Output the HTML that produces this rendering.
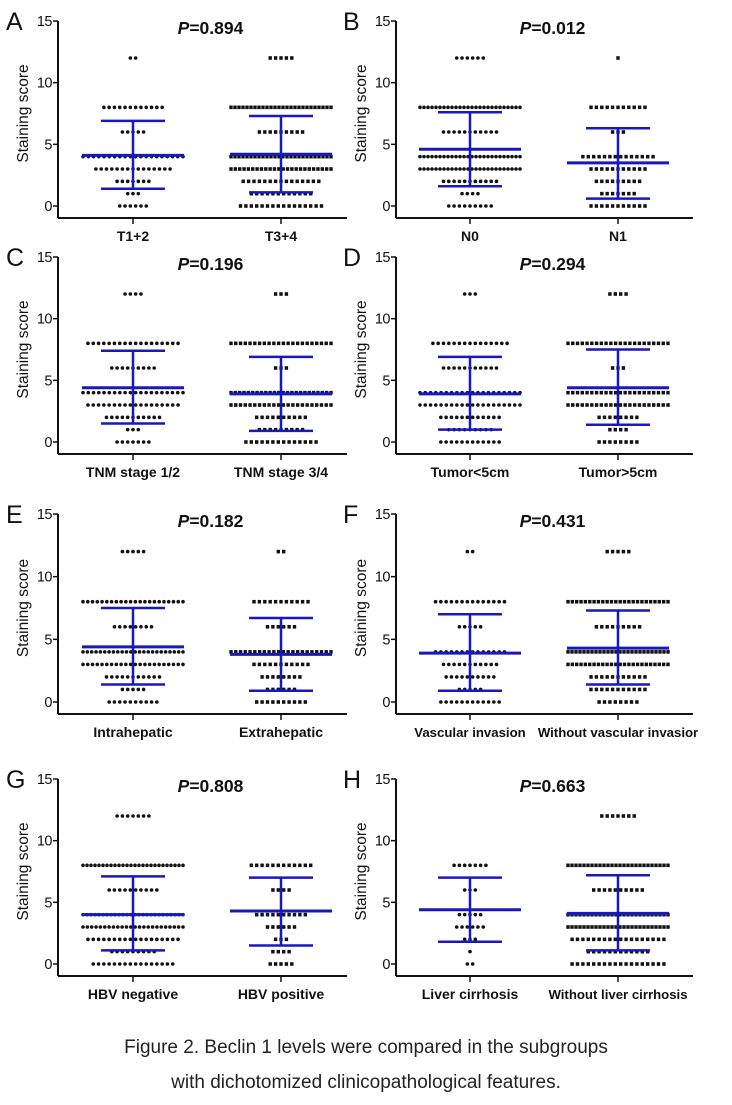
<!DOCTYPE html>
<html><head><meta charset="utf-8"><style>
html,body{margin:0;padding:0;background:#fff;}
svg{display:block;font-family:"Liberation Sans",Arial,sans-serif;}
</style></head><body>
<svg id="fig" width="732" height="1105" viewBox="0 0 732 1105" xmlns="http://www.w3.org/2000/svg">
<text x="366" y="1053" text-anchor="middle" font-size="19" fill="#222">Figure 2. Beclin 1 levels were compared in the subgroups</text>
<text x="366" y="1088" text-anchor="middle" font-size="19" fill="#222">with dichotomized clinicopathological features.</text>
</svg>
<script>
const levels = [0,1,2,3,4,6,8,12];
const panelLetters = ['A','B','C','D','E','F','G','H'];
const pValues = ['0.894','0.012','0.196','0.294','0.182','0.431','0.808','0.663'];
const groupLabels = [['T1+2','T3+4'],['N0','N1'],['TNM stage 1/2','TNM stage 3/4'],['Tumor<5cm','Tumor>5cm'],['Intrahepatic','Extrahepatic'],['Vascular invasion','Without vascular invasior'],['HBV negative','HBV positive'],['Liver cirrhosis','Without liver cirrhosis']];
const counts1 = [[6,3,7,15,20,5,12,2],[9,4,11,26,26,11,26,6],[7,3,11,18,20,9,18,4],[12,9,12,20,20,11,15,3],[10,5,11,22,24,8,22,5],[12,5,10,11,14,5,14,2],[16,9,18,24,26,10,26,7],[2,1,3,6,5,3,7,0]];
const counts2 = [[16,12,15,24,26,9,26,5],[11,7,9,11,14,3,11,1],[14,9,10,22,24,3,22,3],[8,4,8,22,22,3,22,4],[10,6,8,11,22,6,11,2],[8,11,11,24,26,9,24,5],[5,4,3,6,10,4,12,0],[18,12,18,26,26,10,26,7]];
const means1 = [4.1,4.6,4.4,3.9,4.4,3.9,4.0,4.4];
const upper1 = [6.9,7.6,7.4,6.9,7.5,7.0,7.1,7.0];
const lower1 = [1.4,1.6,1.5,1.0,1.4,0.9,1.1,1.8];
const means2 = [4.2,3.5,3.9,4.4,3.8,4.3,4.3,4.1];
const upper2 = [7.3,6.3,6.9,7.5,6.7,7.3,7.0,7.2];
const lower2 = [1.1,0.6,0.9,1.4,0.9,1.4,1.5,1.1];
const yTicks = [0,5,10,15];

const NS='http://www.w3.org/2000/svg';
const svg=document.getElementById('fig');
const rowTop=[21,257,514,779], rowZero=[206,442,702,964];
const colAxis=[58,396], colC1=[133,470], colC2=[281,618], colEnd=[347,693], letterX=[6,343];
function mk(tag,attrs,parent){const e=document.createElementNS(NS,tag);for(const k in attrs)e.setAttribute(k,attrs[k]);(parent||svg).appendChild(e);return e;}
const BLUE='#1818c0';
for(let p=0;p<8;p++){
  const r=Math.floor(p/2), c=p%2;
  const g=mk('g',{});
  
  
  const y0=rowZero[r], y15=rowTop[r];
  const yS=v=>y0-(y0-y15)*v/15;
  const ax=colAxis[c], axY=y0+12;
  const xs=[colC1[c],colC2[c]];
  const L=mk('text',{x:letterX[c],y:y15+9,'font-size':25,fill:'#111'},g);L.textContent=panelLetters[p];
  
  const yl=mk('line',{x1:ax,y1:y15,x2:ax,y2:axY,stroke:'#111','stroke-width':2},g);
  
  const xl=mk('line',{x1:ax,y1:axY,x2:colEnd[c],y2:axY,stroke:'#111','stroke-width':2},g);
  
  yTicks.forEach(t=>{const y=yS(t);mk('line',{x1:ax-5,y1:y,x2:ax,y2:y,stroke:'#111','stroke-width':1.5},g);
    const tt=mk('text',{x:ax-6,y:y+5,'font-size':14.5,'text-anchor':'end',fill:'#111','letter-spacing':'-0.5'},g);tt.textContent=t;
    });
  const yt=mk('text',{x:0,y:0,'font-size':15.5,'text-anchor':'middle',fill:'#111',transform:`translate(${ax-30},${(y15+y0)/2}) rotate(-90)`},g);
  yt.textContent='Staining score';
  const ti=mk('text',{x:(ax+colEnd[c])/2+8,y:y15+13,'font-size':17.5,'font-weight':'bold','text-anchor':'middle',fill:'#111'},g);
  ti.innerHTML='<tspan font-style="italic">P</tspan>='+pValues[p];
  
  [0,1].forEach(k=>{
    mk('line',{x1:xs[k],y1:axY,x2:xs[k],y2:axY+6,stroke:'#111','stroke-width':1.5},g);
    const txt=groupLabels[p][k];
    const fs=txt.length>16?13.2:14;
    const lb=mk('text',{x:xs[k],y:axY+23,'font-size':fs,'font-weight':'bold','text-anchor':'middle',fill:'#111'},g);
    lb.textContent=txt;
    const cnt=k?counts2[p]:counts1[p];
    levels.forEach((lv,i)=>{const n=cnt[i];if(!n)return;const sp=Math.min(k?5.4:5.3,100/Math.max(n-1,1));
      for(let j=0;j<n;j++){const x=xs[k]+(j-(n-1)/2)*sp, y=yS(lv);
        let d;
        if(k){d=mk('rect',{x:x-1.7,y:y-1.8,width:3.4,height:3.6,fill:'#111'},g);}
        else{d=mk('circle',{cx:x,cy:y,r:1.8,fill:'#111'},g);}
        }
    });
    const m=k?means2[p]:means1[p], u=k?upper2[p]:upper1[p], lo=k?lower2[p]:lower1[p];
    const eb=mk('g',{stroke:BLUE,'stroke-width':2.5},g);
    
    mk('line',{x1:xs[k],y1:yS(u),x2:xs[k],y2:yS(lo)},eb);
    mk('line',{x1:xs[k]-32,y1:yS(u),x2:xs[k]+32,y2:yS(u)},eb);
    mk('line',{x1:xs[k]-32,y1:yS(lo),x2:xs[k]+32,y2:yS(lo)},eb);
    mk('line',{x1:xs[k]-51,y1:yS(m),x2:xs[k]+51,y2:yS(m),'stroke-width':3},eb);
  });
}
</script>
</body></html>
